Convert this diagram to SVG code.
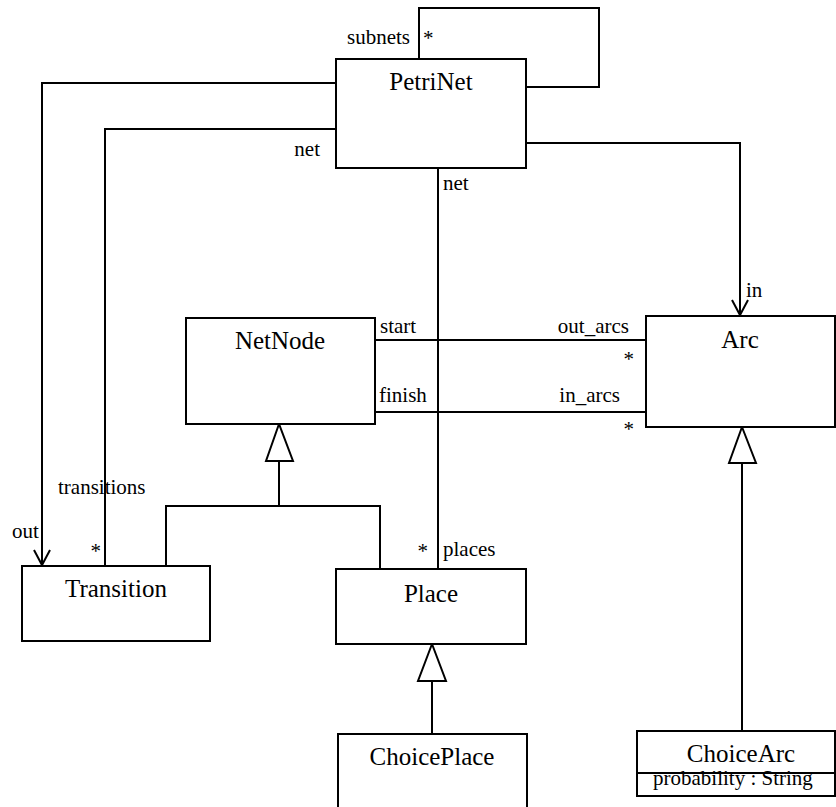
<svg xmlns="http://www.w3.org/2000/svg" width="836" height="807" viewBox="0 0 836 807">
<style>
.box{fill:#fff;stroke:#000;stroke-width:2}
.ln{fill:none;stroke:#000;stroke-width:2}
.tri{fill:#fff;stroke:#000;stroke-width:2}
text{font-family:'Liberation Serif','Times New Roman',Tinos,'DejaVu Serif',serif;fill:#000}
.name{font-size:25px;text-anchor:middle}
.lbl{font-size:21px}
.end{text-anchor:end}
</style>
<defs>
<marker id="open" markerWidth="20" markerHeight="20" refX="16" refY="9" orient="auto" markerUnits="userSpaceOnUse">
<path d="M1,1 L16,9 L1,17" fill="none" stroke="#000" stroke-width="2"/>
</marker>
</defs>
<rect width="836" height="807" fill="#fff"/>
<g id="connectors" font-family="Liberation Serif, serif">
<path class="ln" d="M419,59 V8 H599 V87 H526"/>
<path class="ln" d="M336,83 H42 V565" marker-end="url(#open)"/>
<path class="ln" d="M336,129 H105 V566"/>
<path class="ln" d="M438,168 V569"/>
<path class="ln" d="M526,143 H740 V315" marker-end="url(#open)"/>
<path class="ln" d="M375,340 H646"/>
<path class="ln" d="M375,412 H646"/>
<path class="ln" d="M279,461 V506 M166,566 V506 H380 V569"/>
<polygon class="tri" points="279,424 266,461 293,461"/>
<path class="ln" d="M432,681 V734"/>
<polygon class="tri" points="432,644 418,681 446,681"/>
<path class="ln" d="M742,463 V731"/>
<polygon class="tri" points="742,427 729,463 756,463"/>
<text class="lbl end" x="410" y="44">subnets</text>
<text class="lbl" x="423" y="45">*</text>
<text class="lbl end" x="320" y="156">net</text>
<text class="lbl" x="443" y="190">net</text>
<text class="lbl" x="746" y="297">in</text>
<text class="lbl" x="380" y="333">start</text>
<text class="lbl end" x="629" y="333">out_arcs</text>
<text class="lbl end" x="634" y="366">*</text>
<text class="lbl" x="379" y="402">finish</text>
<text class="lbl end" x="620" y="402">in_arcs</text>
<text class="lbl end" x="634" y="436">*</text>
<text class="lbl" x="58" y="494">transitions</text>
<text class="lbl" x="12" y="538">out</text>
<text class="lbl end" x="101" y="558">*</text>
<text class="lbl end" x="428" y="558">*</text>
<text class="lbl" x="443" y="556">places</text>
</g>
<g id="PetriNet">
<rect class="box" x="336" y="59" width="190" height="109"/>
<text class="name" x="431" y="90">PetriNet</text>
</g>
<g id="NetNode">
<rect class="box" x="186" y="318" width="189" height="106"/>
<text class="name" x="280" y="349">NetNode</text>
</g>
<g id="Arc">
<rect class="box" x="646" y="316" width="189" height="111"/>
<text class="name" x="740" y="348">Arc</text>
</g>
<g id="Transition">
<rect class="box" x="22" y="566" width="188" height="75"/>
<text class="name" x="116" y="597">Transition</text>
</g>
<g id="Place">
<rect class="box" x="336" y="569" width="190" height="75"/>
<text class="name" x="431" y="602">Place</text>
</g>
<g id="ChoicePlace">
<rect class="box" x="338" y="734" width="189" height="100"/>
<text class="name" x="432" y="765">ChoicePlace</text>
</g>
<g id="ChoiceArc">
<rect class="box" x="637" y="731" width="198" height="65"/>
<line class="ln" x1="637" y1="773" x2="835" y2="773"/>
<text class="name" x="741" y="762">ChoiceArc</text>
<text class="lbl" x="653" y="785">probability : String</text>
</g>
</svg>
